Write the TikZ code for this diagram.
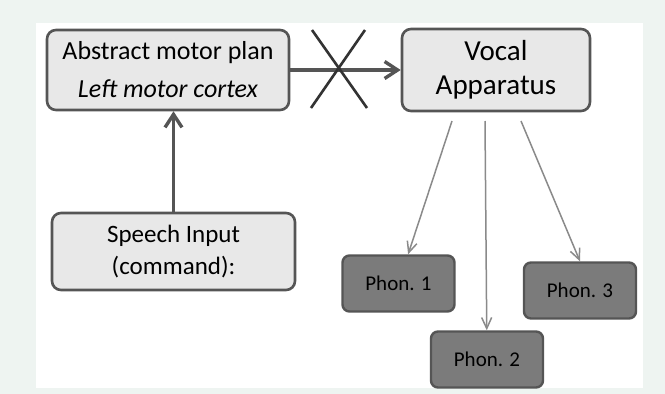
\documentclass[tikz,border=0pt]{standalone}
\usepackage{fontspec}
\setmainfont{Carlito}
\usetikzlibrary{arrows.meta}

\definecolor{frame}{HTML}{EEF4F1}
\definecolor{boxfill}{HTML}{E8E8E8}
\definecolor{boxline}{HTML}{555555}
\definecolor{phonfill}{HTML}{7B7B7B}
\definecolor{thinline}{HTML}{8A8A8A}

\tikzset{
    plainbox/.style={draw=boxline, line width=2.6pt, fill=boxfill, rounded corners=9pt,
        align=center, inner sep=0pt, text=black},
    phonbox/.style={draw=boxline, line width=2.4pt, fill=phonfill, rounded corners=7pt,
        inner sep=0pt, minimum width=112pt, minimum height=56pt,
        font=\fontsize{21}{25}\selectfont, text=black},
    bigarrow/.style={draw=boxline, line width=3.4pt, -{Straight Barb[length=13pt,width=17pt,line width=3.4pt]}},
    thinarrow/.style={draw=thinline, line width=1.5pt, -{Straight Barb[length=11pt,width=10pt,line width=1.5pt]}}
}

\begin{document}
\begin{tikzpicture}[x=1pt, y=-1pt]
    % Background and white panel
    \fill[frame] (0,0) rectangle (665,394);
    \fill[white] (36,23) rectangle (643,388);
    \useasboundingbox (0,0) rectangle (665,394);

    % Boxes
    \node[plainbox, minimum width=242pt, minimum height=80pt,
        font=\fontsize{26}{38}\selectfont] (plan) at (168,70)
        {Abstract motor plan\\ \textit{Left motor cortex}};
    \node[plainbox, minimum width=188pt, minimum height=82pt,
        font=\fontsize{29}{34}\selectfont] (vocal) at (496,70)
        {Vocal\\Apparatus};
    \node[plainbox, minimum width=243pt, minimum height=77pt,
        font=\fontsize{25}{32}\selectfont] (speech) at (173.5,251.5)
        {Speech Input\\(command):};
    \node[phonbox] (phon1) at (398.5,283.5) {Phon. 1};
    \node[phonbox] (phon2) at (487,359.5) {Phon. 2};
    \node[phonbox] (phon3) at (580,290.5) {Phon. 3};

    % Input to motor plan, motor plan to vocal apparatus
    \draw[bigarrow] (speech.north) -- (speech.north |- plan.south);
    \draw[bigarrow] (plan.east) -- (plan.east -| vocal.west);

    % Cross over the blocked path
    \coordinate (c1) at (312,30);
    \coordinate (c2) at (367,108);
    \coordinate (c3) at (365,30);
    \coordinate (c4) at (311,108);
    \draw[draw=black!80, line width=2.6pt] (c1) -- (c2);
    \draw[draw=black!80, line width=2.6pt] (c3) -- (c4);

    % Vocal apparatus to the phonemes
    \coordinate (v1) at (452,121);
    \coordinate (v2) at (485,121);
    \coordinate (v3) at (521,121);
    \draw[thinarrow] (v1) -- (phon1);
    \draw[thinarrow] (v2) -- (phon2);
    \draw[thinarrow] (v3) -- (phon3.north);
\end{tikzpicture}
\end{document}
